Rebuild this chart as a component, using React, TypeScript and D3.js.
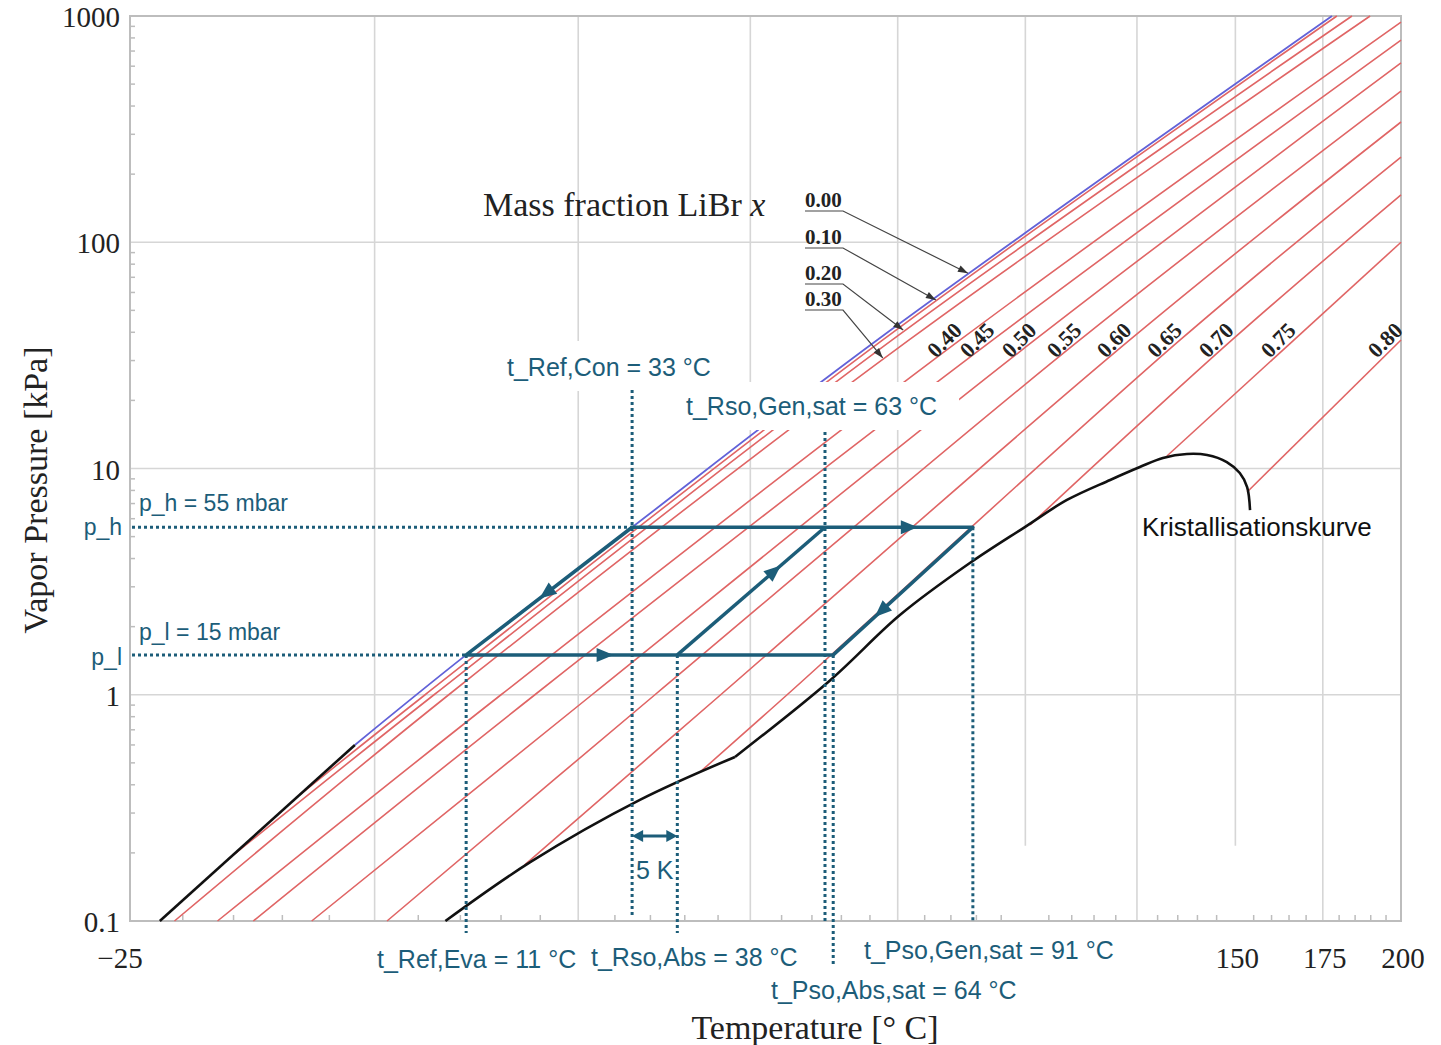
import React, { useEffect, useRef } from 'react';
import * as d3 from 'd3';

const WIDTH = 1441;
const HEIGHT = 1045;

// axes
const tempGrid = [0, 25, 50, 75, 100, 125, 150, 175];
const tempTickLabels = [-25, 150, 175, 200];
const pressureTicks = [0.1, 1, 10, 100, 1000];
const pressureTickLabels = ['0.1', '1', '10', '100', '1000'];
const shortGrid = [100, 150]; // these two stop short of the axis in the source picture
const shortGridEnd = 0.215;

// LiBr mass fraction lines (°C, kPa)
const fractions = ['0.00', '0.10', '0.20', '0.30', '0.40', '0.45', '0.50', '0.55', '0.60', '0.65', '0.70', '0.75', '0.80'];
const fractionTemps = [
  [-2.2, 10.7, 32.4, 71.3, 177.8],
  [-8.2, 5.8, 72.3, 179.3],
  [-15.5, 6.85, 74.0, 184.0],
  [-20.8, 8.6, 77.1, 189.8],
  [-16.6, 15.0, 86.8, 200],
  [-13.0, 19.3, 93.3, 200],
  [-6.9, 26.85, 102.0, 200],
  [1.4, 35.65, 111.8, 200],
  [18.0, 45.4, 123.3, 200],
  [42.3, 55.9, 135.6, 200],
  [101.0, 149.1, 200],
  [132.3, 200],
  [153.2, 200],
];
const fractionPressures = [
  [0.6, 1.5, 5.5, 37, 1000],
  [0.36, 1, 37, 1000],
  [0.188, 1, 37, 1000],
  [0.1, 1, 37, 1000],
  [0.1, 1, 37, 940],
  [0.1, 1, 37, 783],
  [0.1, 1, 37, 620],
  [0.1, 1, 37, 466],
  [0.177, 1, 37, 340],
  [0.456, 1, 37, 238],
  [5.63, 37, 162],
  [11.36, 100],
  [7.87, 37],
];
// pressure where the leader arrows of 0.00 .. 0.30 touch their line
const leaderPressures = [73, 55.6, 40.9, 30.8];

// ice line and crystallisation curve (the curve has a kink at index 3)
const iceTemps = [-22.2, -2.2];
const icePressures = [0.1, 0.6];
const crystTemps = [8.2, 18.7, 33.5, 47.6, 63.1, 75.4, 88.7, 99.9, 108.95, 118.7, 125.7, 131.3, 137.3, 142.5, 147.7, 151.2, 153.2, 154.0];
const crystPressures = [0.1, 0.182, 0.343, 0.531, 1.16, 2.25, 3.82, 5.51, 7.26, 8.9, 10.15, 11.13, 11.59, 11.47, 10.68, 9.55, 8.28, 6.55];
const crystKink = 3;

// absorption cycle
const pHigh = 5.5;
const pLow = 1.5;
const cycleTemps = [10.7, 32.4, 38.9, 62.2, 63.6, 89.3];
const cycleTempLabels = ['t_Ref,Eva = 11 °C', 't_Ref,Con = 33 °C', 't_Rso,Abs = 38 °C', 't_Rso,Gen,sat = 63 °C', 't_Pso,Abs,sat = 64 °C', 't_Pso,Gen,sat = 91 °C'];
const deltaPressure = 0.2375;

const TEAL = '#1c5d79';
const RED = '#e06565';
const BLUE = '#6262d8';
const GRID = '#d6d6d6';
const FRAME = '#bdbdbd';
const SERIF = '"Liberation Serif", "Times New Roman", serif';
const SANS = '"Liberation Sans", Arial, sans-serif';

export default function App() {
  const ref = useRef<SVGSVGElement>(null);

  useEffect(() => {
    document.body.style.margin = '0';
    const svg = d3.select(ref.current);
    svg.selectAll('*').remove();

    const K = (t: number) => t + 273.15;
    const inv = d3.scaleLinear().domain([-1 / K(-25), -1 / K(200)]).range([130, 1401]);
    const x = (t: number) => inv(-1 / K(t));
    const y = d3.scaleLog().domain([0.1, 1000]).range([921, 16]);
    const [x0, x1] = [x(-25), x(200)];
    const [yb, yt] = [y(0.1), y(1000)];

    // grid
    const grid = svg.append('g');
    tempGrid.forEach((t) => {
      grid.append('line')
        .attr('x1', x(t)).attr('x2', x(t))
        .attr('y1', yt).attr('y2', shortGrid.includes(t) ? y(shortGridEnd) : yb)
        .attr('stroke', GRID).attr('stroke-width', 1.6);
    });
    [1, 10, 100].forEach((p) => {
      grid.append('line').attr('x1', x0).attr('x2', x1).attr('y1', y(p)).attr('y2', y(p))
        .attr('stroke', GRID).attr('stroke-width', 1.6);
    });
    grid.append('rect').attr('x', x0).attr('y', yt).attr('width', x1 - x0).attr('height', yb - yt)
      .attr('fill', 'none').attr('stroke', FRAME).attr('stroke-width', 2);

    // minor ticks
    for (let t = -20; t < 200; t += 5) {
      if (t % 25 === 0) continue;
      grid.append('line').attr('x1', x(t)).attr('x2', x(t)).attr('y1', yb).attr('y2', yb - 6)
        .attr('stroke', FRAME).attr('stroke-width', 1.5);
    }
    [0.1, 1, 10, 100].forEach((d) => {
      for (let m = 2; m <= 9; m++) {
        const yy = y(d * m);
        grid.append('line').attr('x1', x0).attr('x2', x0 + 5).attr('y1', yy).attr('y2', yy)
          .attr('stroke', FRAME).attr('stroke-width', 1.5);
      }
    });

    // tick labels
    pressureTicks.forEach((p, i) => {
      svg.append('text').attr('x', 120).attr('y', y(p) + 11).attr('text-anchor', 'end')
        .attr('font-family', SERIF).attr('font-size', 29).attr('fill', '#222').text(pressureTickLabels[i]);
    });
    tempTickLabels.forEach((t) => {
      svg.append('text').attr('x', x(t) + (t < 0 ? -10 : 2)).attr('y', 968).attr('text-anchor', 'middle')
        .attr('font-family', SERIF).attr('font-size', 29).attr('fill', '#222')
        .text(t < 0 ? `\u2212${Math.abs(t)}` : `${t}`);
    });
    svg.append('text').attr('x', 815).attr('y', 1039).attr('text-anchor', 'middle')
      .attr('font-family', SERIF).attr('font-size', 34).attr('fill', '#222').text('Temperature [° C]');
    svg.append('text').attr('transform', 'translate(47,490) rotate(-90)').attr('text-anchor', 'middle')
      .attr('font-family', SERIF).attr('font-size', 34).attr('fill', '#222').text('Vapor Pressure [kPa]');

    // concentration lines
    const pts = (ts: number[], ps: number[]) => ts.map((t, i) => [x(t), y(ps[i])] as [number, number]);
    const smooth = d3.line().curve(d3.curveCatmullRom.alpha(0.5));
    const lines = fractions.map((_, i) => pts(fractionTemps[i], fractionPressures[i]));
    const lg = svg.append('g').attr('fill', 'none');
    lines.forEach((l, i) => {
      if (i === 0) return;
      lg.append('path').attr('d', smooth(l)).attr('stroke', RED).attr('stroke-width', 1.6);
    });
    lg.append('path').attr('d', smooth(lines[0])).attr('stroke', BLUE).attr('stroke-width', 1.8);
    lg.append('path').attr('d', d3.line()(pts(iceTemps, icePressures))).attr('stroke', '#111').attr('stroke-width', 2.6);
    const cryst = pts(crystTemps, crystPressures);
    lg.append('path').attr('d', smooth(cryst.slice(0, crystKink + 1))).attr('stroke', '#111').attr('stroke-width', 2.6);
    lg.append('path').attr('d', smooth(cryst.slice(crystKink))).attr('stroke', '#111').attr('stroke-width', 2.6);

    const xAtY = (l: [number, number][], yy: number) => {
      for (let k = 0; k < l.length - 1; k++) {
        const [ax, ay] = l[k];
        const [bx, by] = l[k + 1];
        if ((ay - yy) * (by - yy) <= 0) return ax + ((yy - ay) / (by - ay)) * (bx - ax);
      }
      return l[l.length - 1][0];
    };

    const arrow = (g: any, tx: number, ty: number, ang: number, len: number, half: number, color: string) => {
      const bx = tx - len * Math.cos(ang);
      const by = ty - len * Math.sin(ang);
      const nx = -Math.sin(ang) * half;
      const ny = Math.cos(ang) * half;
      g.append('path').attr('d', `M${tx},${ty}L${bx + nx},${by + ny}L${bx - nx},${by - ny}Z`).attr('fill', color);
    };

    // fraction labels
    const lab = svg.append('g');
    lab.append('text').attr('x', 483).attr('y', 216).attr('font-family', SERIF).attr('font-size', 34).attr('fill', '#222')
      .text('Mass fraction LiBr ')
      .append('tspan').attr('font-style', 'italic').text('x');
    const leaderBase = [207, 244, 280, 306];
    leaderPressures.forEach((p, i) => {
      const b = leaderBase[i];
      lab.append('text').attr('x', 805).attr('y', b).attr('font-family', SERIF).attr('font-weight', 'bold')
        .attr('font-size', 21).attr('fill', '#222').text(fractions[i]);
      const ty = y(p);
      const tx = xAtY(lines[i], ty) - 3;
      lab.append('path').attr('d', `M805,${b + 4}L843,${b + 4}L${tx},${ty}`).attr('fill', 'none')
        .attr('stroke', '#444').attr('stroke-width', 1.2);
      arrow(lab, tx, ty, Math.atan2(ty - b - 4, tx - 843), 10, 3.5, '#333');
    });
    fractions.forEach((f, i) => {
      if (i < 4) return;
      const yy = y(37);
      const cx = xAtY(lines[i], yy) - 16;
      lab.append('text').attr('transform', `translate(${cx},${yy}) rotate(-45)`).attr('text-anchor', 'middle')
        .attr('dy', '0.35em').attr('font-family', SERIF).attr('font-weight', 'bold').attr('font-size', 22)
        .attr('fill', '#222').text(f);
    });

    // annotation labels with white boxes
    const ann = svg.append('g').attr('font-family', SANS).attr('fill', TEAL);
    const boxed = (tx: number, ty: number, s: string, size: number, pad: [number, number, number, number]) => {
      const t = ann.append('text').attr('x', tx).attr('y', ty).attr('font-size', size).text(s);
      const bb = (t.node() as SVGTextElement).getBBox();
      ann.insert('rect', () => t.node())
        .attr('x', bb.x - pad[3]).attr('y', bb.y - pad[0])
        .attr('width', bb.width + pad[1] + pad[3]).attr('height', bb.height + pad[0] + pad[2])
        .attr('fill', '#fff');
    };
    boxed(507, 376, cycleTempLabels[1], 25, [12, 8, 10, 4]);
    boxed(686, 415, cycleTempLabels[3], 25, [10, 22, 10, 6]);
    const below: [number, number, number][] = [[377, 968, 0], [591, 966, 2], [771, 999, 4], [864, 959, 5]];
    below.forEach(([lx, ly, i]) => {
      ann.append('text').attr('x', lx).attr('y', ly).attr('font-size', 25).text(cycleTempLabels[i]);
    });
    ann.append('text').attr('x', 139).attr('y', 511).attr('font-size', 23).text('p_h = 55 mbar');
    ann.append('text').attr('x', 139).attr('y', 640).attr('font-size', 23).text('p_l = 15 mbar');
    ann.append('text').attr('x', 122).attr('y', 535).attr('font-size', 23).attr('text-anchor', 'end').text('p_h');
    ann.append('text').attr('x', 122).attr('y', 665).attr('font-size', 23).attr('text-anchor', 'end').text('p_l');
    ann.append('text').attr('x', 636).attr('y', 879).attr('font-size', 25).text('5 K');
    svg.append('text').attr('x', 1142).attr('y', 536).attr('font-family', SANS).attr('font-size', 26)
      .attr('fill', '#111').text('Kristallisationskurve');

    // dotted guides
    const dots = svg.append('g').attr('stroke', TEAL).attr('stroke-width', 3).attr('stroke-dasharray', '3 3').attr('fill', 'none');
    const [tEva, tCon, tRsoAbs, tRsoGen, tPsoAbs, tPsoGen] = cycleTemps;
    const guides: [number, number, number][] = [
      [tEva, y(pLow), 933],
      [tCon, 390, 918],
      [tRsoAbs, y(pLow), 933],
      [tRsoGen, 432, 922],
      [tPsoAbs, y(pLow), 966],
      [tPsoGen, y(pHigh), 921],
    ];
    guides.forEach(([t, a, b]) => {
      dots.append('line').attr('x1', x(t)).attr('x2', x(t)).attr('y1', a).attr('y2', b);
    });
    dots.append('line').attr('x1', 132).attr('x2', x(tCon)).attr('y1', y(pHigh)).attr('y2', y(pHigh));
    dots.append('line').attr('x1', 132).attr('x2', x(tEva)).attr('y1', y(pLow)).attr('y2', y(pLow));

    // cycle
    const P = (t: number, p: number) => [x(t), y(p)] as [number, number];
    const A = P(tEva, pLow), B = P(tCon, pHigh), C = P(tRsoGen, pHigh), D = P(tPsoGen, pHigh), E = P(tPsoAbs, pLow), F = P(tRsoAbs, pLow);
    const cyc = svg.append('g');
    cyc.append('path').attr('d', d3.line()([A, B, D, E, A]) + 'Z').attr('fill', 'none')
      .attr('stroke', TEAL).attr('stroke-width', 3.5).attr('stroke-linejoin', 'round');
    cyc.append('path').attr('d', d3.line()([F, C])).attr('stroke', TEAL).attr('stroke-width', 3.5);
    const mid: [[number, number], [number, number], number][] = [[B, A, 0.52], [A, E, 0.38], [F, C, 0.66], [B, D, 0.815], [D, E, 0.66]];
    mid.forEach(([s, e, f]) => {
      const ang = Math.atan2(e[1] - s[1], e[0] - s[0]);
      const px = s[0] + f * (e[0] - s[0]) + 8 * Math.cos(ang);
      const py = s[1] + f * (e[1] - s[1]) + 8 * Math.sin(ang);
      arrow(cyc, px, py, ang, 17, 7, TEAL);
    });

    // 5 K span
    const ky = y(deltaPressure);
    cyc.append('line').attr('x1', x(tCon) + 4).attr('x2', x(tRsoAbs) - 4).attr('y1', ky).attr('y2', ky)
      .attr('stroke', TEAL).attr('stroke-width', 3);
    arrow(cyc, x(tCon), ky, Math.PI, 11, 6, TEAL);
    arrow(cyc, x(tRsoAbs), ky, 0, 11, 6, TEAL);
  }, []);

  return <svg ref={ref} width={WIDTH} height={HEIGHT} style={{ display: 'block', background: '#fff' }} />;
}
